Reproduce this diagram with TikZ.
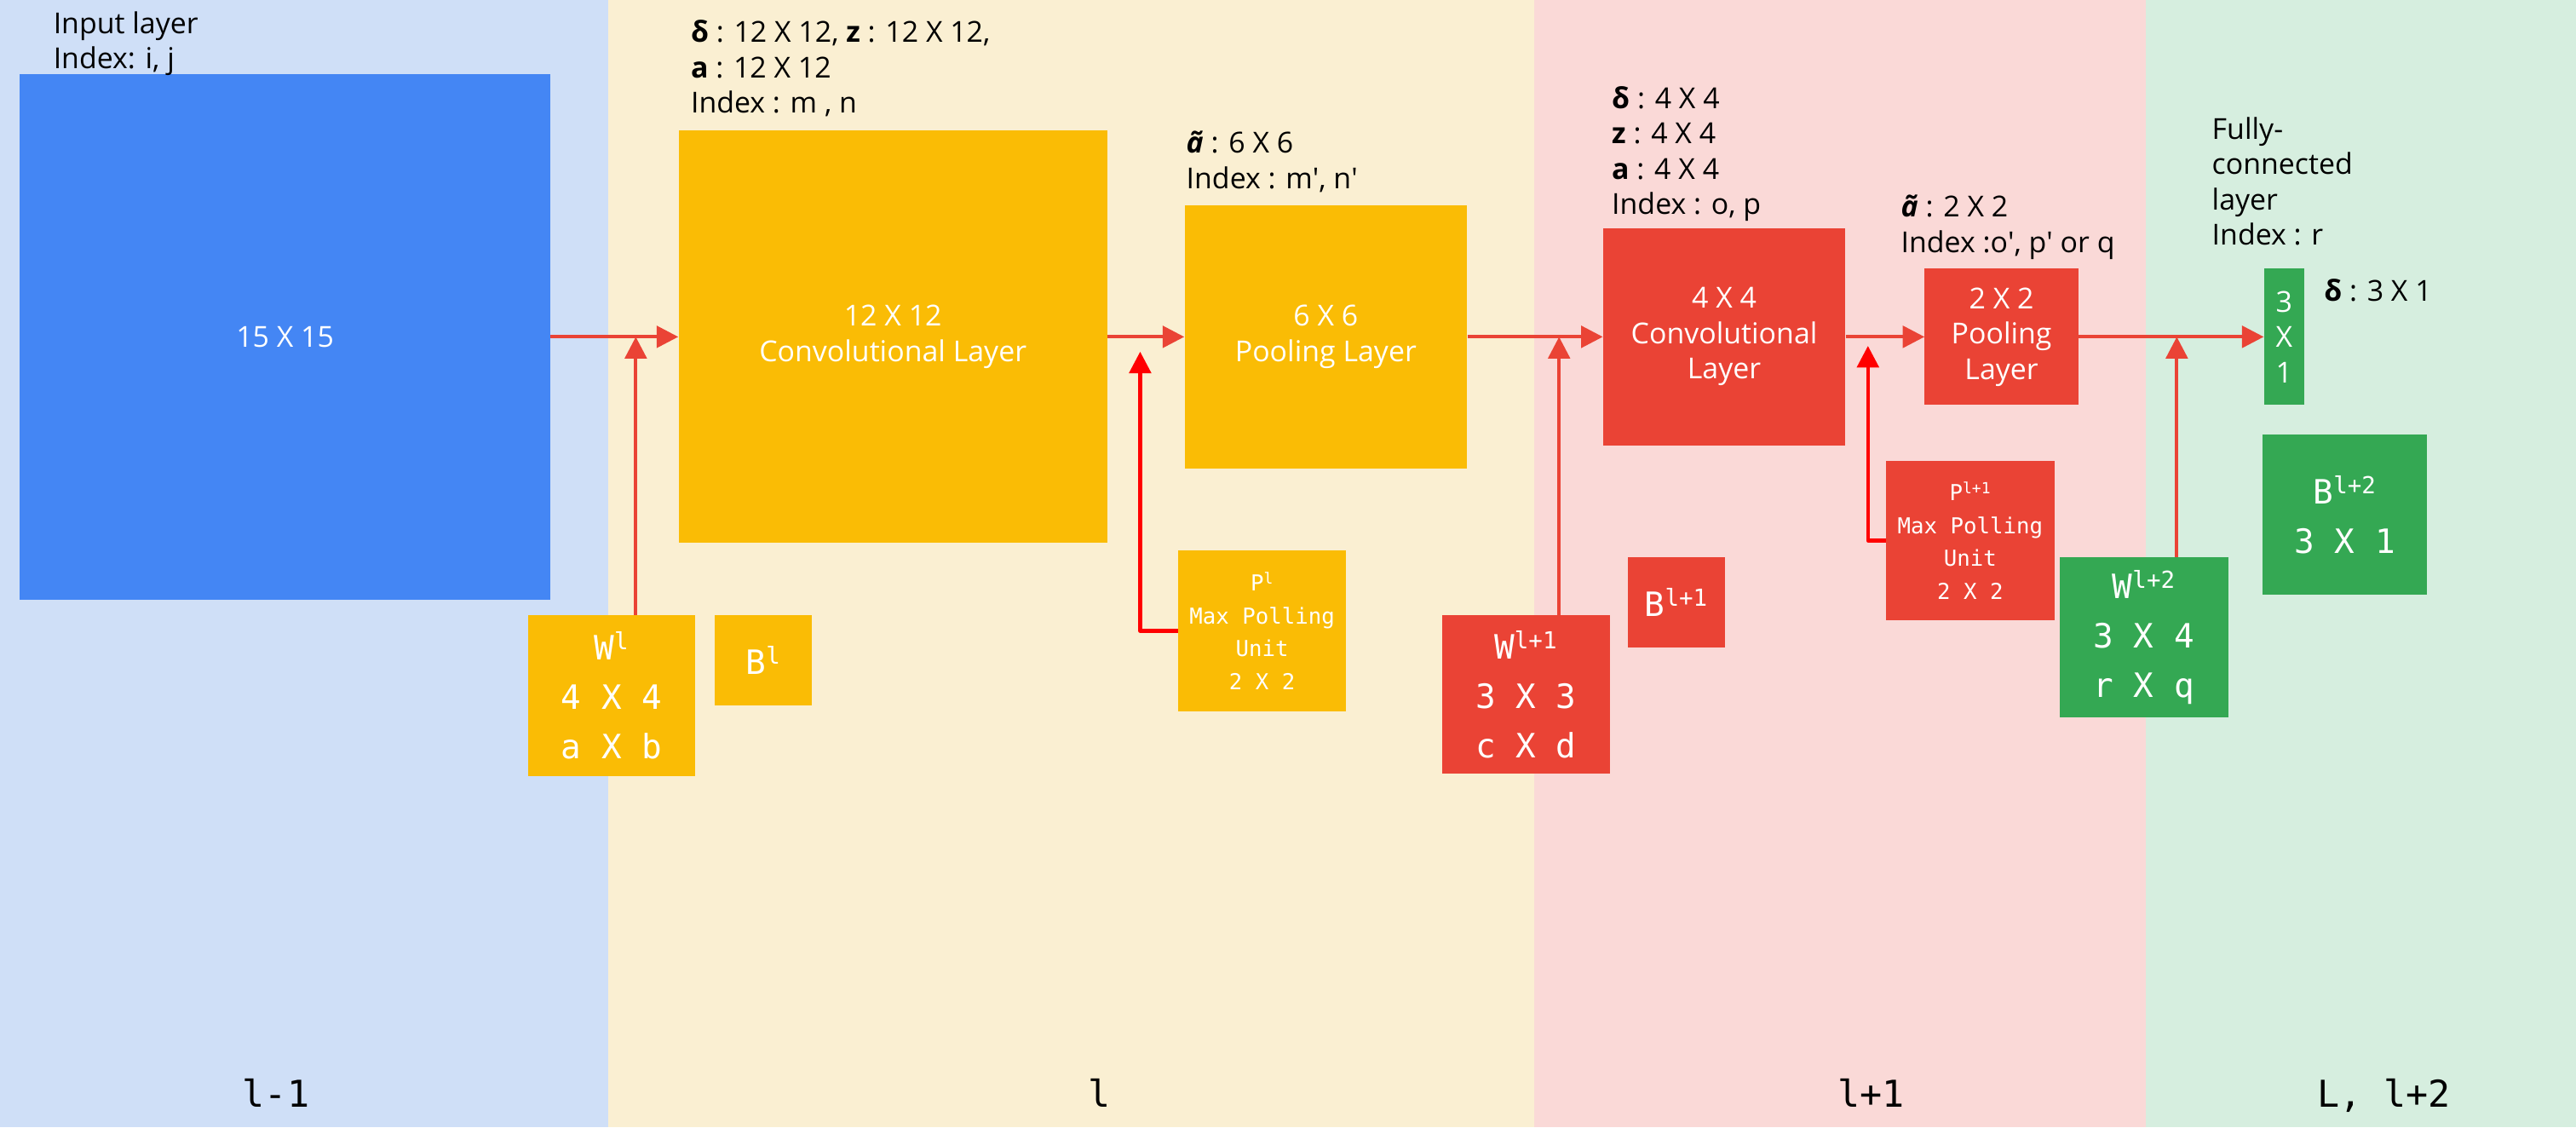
\documentclass[tikz,border=0pt]{standalone}
\usepackage{fontspec}
\setmainfont{Open Sans}
\setmonofont{DejaVu Sans Mono}
\usetikzlibrary{arrows.meta}
\definecolor{bandblue}{HTML}{CFDFF7}
\definecolor{bandyellow}{HTML}{FAEFD2}
\definecolor{bandred}{HTML}{FAD9D7}
\definecolor{bandgreen}{HTML}{D6EEDF}
\definecolor{gblue}{HTML}{4486F4}
\definecolor{gyellow}{HTML}{FABC05}
\definecolor{gred}{HTML}{EA4335}
\definecolor{ggreen}{HTML}{34A853}
\tikzset{
  layerbox/.style={inner sep=0pt, text=white, align=center, font=\fontsize{25}{30.6}\selectfont},
  weight/.style={inner sep=0pt, text=white, align=center, font=\ttfamily\fontsize{29}{42.7}\selectfont},
  poolunit/.style={inner sep=0pt, text=white, align=center, font=\ttfamily\fontsize{19}{28.5}\selectfont},
  dims/.style={anchor=base west, inner sep=0pt, align=left, font=\fontsize{25}{30.6}\selectfont},
  band/.style={anchor=base, inner sep=0pt, font=\ttfamily\fontsize{32}{38}\selectfont},
  sz/.style 2 args={minimum width=#1*0.05cm, minimum height=#2*0.05cm},
  flow/.style={draw=gred, line width=0.1cm, -{Triangle[length=0.66cm,width=0.66cm]}},
  poolflow/.style={draw=red, line width=0.115cm, line join=round, -{Triangle[length=0.66cm,width=0.66cm]}}
}
\begin{document}
\begin{tikzpicture}[x=0.05cm, y=-0.05cm]
      \useasboundingbox (0,0) rectangle (1568,686);
      \fill[bandblue] (0,0) rectangle (370,686);
      \fill[bandyellow] (370,0) rectangle (934,686);
      \fill[bandred] (934,0) rectangle (1306,686);
      \fill[bandgreen] (1306,0) rectangle (1568,686);
      \node[band] (lm1) at (168,674) {l-1};
      \node[band] (l0) at (669,674) {l};
      \node[band] (lp1) at (1139,674) {l+1};
      \node[band] (lp2) at (1451,674) {L, l+2};

      \node[layerbox, fill=gblue, sz={323}{320}] (input) at (173.5,205) {15 X 15};
      \node[layerbox, fill=gyellow, sz={261}{251}] (conv1) at (543.5,205) {12 X 12\\Convolutional Layer};
      \node[layerbox, fill=gyellow, sz={172}{160}] (pool1) at (807,205) {6 X 6\\Pooling Layer};
      \node[layerbox, fill=gred, sz={147.5}{132}] (conv2) at (1049.5,205) {4 X 4\\Convolutional\\Layer};
      \node[layerbox, fill=gred, sz={93.5}{83}] (pool2) at (1218.3,205) {2 X 2\\Pooling\\Layer};
      \node[layerbox, fill=ggreen, sz={24.5}{83}] (fc) at (1390.3,205) {3\\X\\1};

      \node[weight, fill=gyellow, sz={101.7}{97.8}] (wl) at (372.3,423.3) {W\textsuperscript{l}\\4 X 4\\a X b};
      \node[weight, fill=gyellow, sz={59.3}{55}] (bl) at (464.7,401.9) {B\textsuperscript{l}};
      \node[poolunit, fill=gyellow, sz={102.3}{97.8}] (pl) at (768.2,383.9) {P\textsuperscript{l}\\Max Polling\\Unit\\2 X 2};
      \node[weight, fill=gred, sz={102.4}{96.6}] (wl1) at (928.8,422.7) {W\textsuperscript{l+1}\\3 X 3\\c X d};
      \node[weight, fill=gred, sz={58.7}{55}] (bl1) at (1020.4,366.5) {B\textsuperscript{l+1}};
      \node[poolunit, fill=gred, sz={102.6}{97.4}] (pl1) at (1199.3,329) {P\textsuperscript{l+1}\\Max Polling\\Unit\\2 X 2};
      \node[weight, fill=ggreen, sz={102.5}{97.6}] (wl2) at (1305,387.8) {W\textsuperscript{l+2}\\3 X 4\\r X q};
      \node[weight, fill=ggreen, sz={100.3}{97.7}] (bl2) at (1427.3,313.3) {B\textsuperscript{l+2}\\3 X 1};

      \node[dims] (inlbl) at (32.4,41.8) {Input layer\\Index: i, j};
      \node[dims] (c1lbl) at (420.4,68.8) {\textbf{δ} : 12 X 12, \textbf{z} : 12 X 12,\\\textbf{a} : 12 X 12\\Index : m , n};
      \node[dims] (p1lbl) at (722,114.6) {\textbf{\textit{ã}} : 6 X 6\\Index : m′, n′};
      \node[dims] (c2lbl) at (981,130.4) {\textbf{δ} : 4 X 4\\\textbf{z} : 4 X 4\\\textbf{a} : 4 X 4\\Index : o, p};
      \node[dims] (p2lbl) at (1157,153.7) {\textbf{\textit{ã}} : 2 X 2\\Index :o′, p′ or q};
      \node[dims] (fclbl) at (1346.3,149.2) {Fully-\\connected\\layer\\Index : r};
      \node[dims] (dlbl) at (1414.5,183.3) {\textbf{δ} : 3 X 1};

      \coordinate (pltip) at (694,214);
      \coordinate (pl1tip) at (1137,210.5);
      \begin{scope}[flow]
        \draw (input) -- (conv1);
        \draw (conv1) -- (pool1);
        \draw (pool1) -- (conv2);
        \draw (conv2) -- (pool2);
        \draw (pool2) -- (fc);
        \draw ([xshift=0.735cm]wl.north) -- ([xshift=0.735cm]wl.north |- input.east);
        \draw ([xshift=1.01cm]wl1.north) -- ([xshift=1.01cm]wl1.north |- input.east);
        \draw ([xshift=1cm]wl2.north) -- ([xshift=1cm]wl2.north |- input.east);
      \end{scope}
      \begin{scope}[poolflow]
        \draw (pl.west) -| (pltip);
        \draw (pl1.west) -| (pl1tip);
      \end{scope}
    \end{tikzpicture}
\end{document}
